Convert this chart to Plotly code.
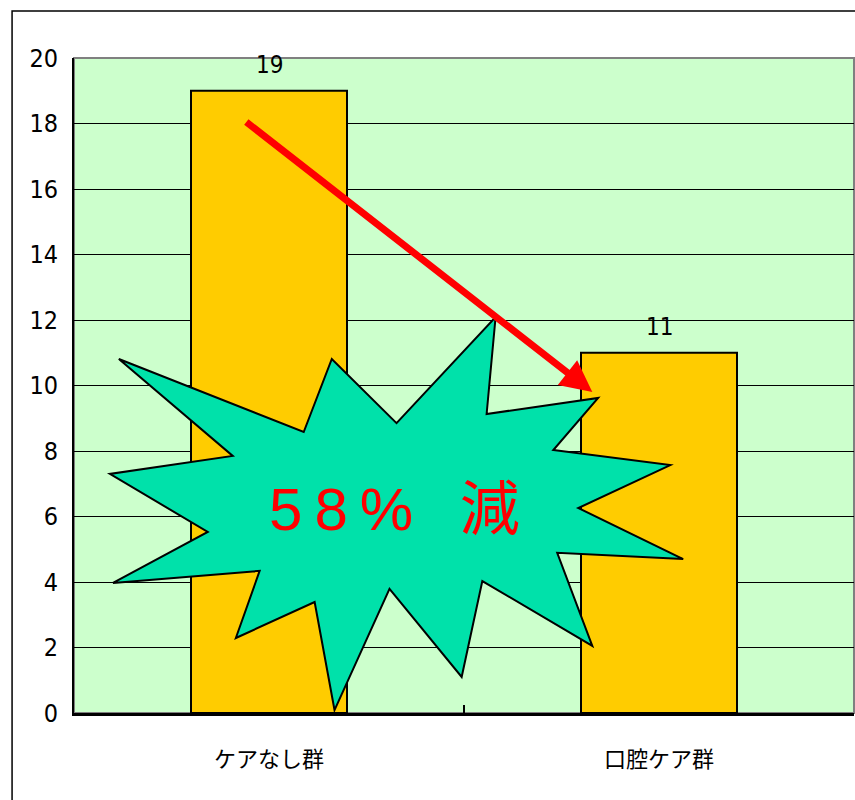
import plotly.graph_objects as go

categories = ["ケアなし群", "口腔ケア群"]
values = [19, 11]
y_ticks = [0, 2, 4, 6, 8, 10, 12, 14, 16, 18, 20]

# starburst outline (data units: x in category index, y in value units)
star_x = [-0.385, 0.089, 0.161, 0.327, 0.581, 0.558, 0.844, 0.729, 1.029, 0.793,
          1.062, 0.739, 0.829, 0.547, 0.494, 0.309, 0.168, 0.117, -0.085, -0.024,
          -0.400, -0.157, -0.408, -0.093]
star_y = [10.81, 8.58, 10.81, 8.85, 12.09, 9.13, 9.62, 8.03, 7.57, 6.26,
          4.70, 4.89, 2.05, 4.03, 1.10, 3.79, 0.09, 3.39, 2.29, 4.34,
          3.97, 5.53, 7.30, 7.85]
star_text = "5\u20098\u2009%\u2002 減"
star_text_pos = (0.322, 6.2)
arrow_start = (-0.062, 18.08)
arrow_end = (0.829, 9.80)

num_font = "DejaVu Sans Condensed, Liberation Sans Narrow, sans-serif"

fig = go.Figure()
fig.add_trace(go.Bar(
    x=categories, y=values,
    marker=dict(color="#FFCC00", line=dict(color="black", width=2)),
    width=0.4,
    hoverinfo="skip",
))

path = "M " + " L ".join(f"{x},{y}" for x, y in zip(star_x, star_y)) + " Z"

shapes = [
    dict(type="rect", xref="paper", yref="paper", x0=0, y0=0, x1=1, y1=1,
         line=dict(color="#808080", width=2), layer="below"),
    dict(type="rect", xref="paper", yref="paper", x0=-0.0794, y0=-0.3, x1=1.05, y1=1.0718,
         line=dict(color="black", width=1.5), layer="above"),
    dict(type="path", xref="x", yref="y", path=path,
         fillcolor="#00E1AA", line=dict(color="black", width=2), layer="above"),
]

annotations = []
for c, v in zip(categories, values):
    annotations.append(dict(x=c, y=v, xref="x", yref="y", text=str(v), showarrow=False,
                            yanchor="bottom", yshift=10,
                            font=dict(family=num_font, size=24, color="black")))
annotations.append(dict(x=arrow_end[0], y=arrow_end[1], ax=arrow_start[0], ay=arrow_start[1],
                        xref="x", yref="y", axref="x", ayref="y", text="", showarrow=True,
                        arrowhead=2, arrowsize=0.9, arrowwidth=7, arrowcolor="#FF0000"))
annotations.append(dict(x=star_text_pos[0], y=star_text_pos[1], xref="x", yref="y",
                        text=star_text, showarrow=False,
                        font=dict(family="Liberation Sans, Noto Sans CJK JP", size=60,
                                  color="#FF0000")))

fig.update_layout(
    width=855, height=800,
    margin=dict(l=74, r=1, t=58, b=87),
    paper_bgcolor="white",
    plot_bgcolor="#CCFFCC",
    showlegend=False,
    bargap=0.6,
    shapes=shapes,
    annotations=annotations,
    xaxis=dict(
        type="category", range=[-0.5, 1.5],
        showline=True, linecolor="black", linewidth=3,
        ticks="inside", tickson="boundaries", ticklen=8, tickcolor="black", tickwidth=2,
        showgrid=False,
        tickfont=dict(family="Noto Sans CJK JP", size=22, color="black"),
        ticklabelstandoff=25,
    ),
    yaxis=dict(
        range=[0, 20], tickvals=y_ticks,
        showline=True, linecolor="black", linewidth=2,
        ticks="inside", ticklen=6, tickcolor="black",
        showgrid=True, gridcolor="black", gridwidth=1,
        zeroline=False,
        tickfont=dict(family=num_font, size=25, color="black"),
        ticklabelstandoff=9,
    ),
)

fig.write_html("out.html")
